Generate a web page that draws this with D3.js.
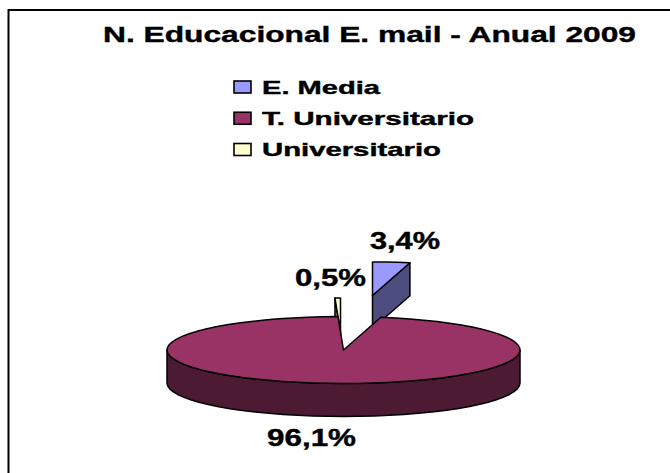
<!DOCTYPE html>
<html><head><meta charset="utf-8">
<script src="https://cdn.jsdelivr.net/npm/d3@7"></script>
<style>html,body{margin:0;padding:0;background:#fff}svg{display:block}text{font-family:"Liberation Sans",Arial,sans-serif;font-weight:700;fill:#000;stroke:#000;stroke-width:.4}</style>
</head><body><svg id="c" width="670" height="473"></svg>
<script>
const categories=["E. Media","T. Universitario","Universitario"];
const values=[3.4,96.1,0.5];
const labels=["3,4%","96,1%","0,5%"];
const colors=["#9999ff","#993366","#ffffcc"];
const sideColors=["#4d4d80","#4d1a33","#808066"];
const title="N. Educacional E. mail - Anual 2009";

const svg=d3.select("#c");
svg.append("path").attr("d","M670,10H8.5V473").attr("fill","none").attr("stroke","#000").attr("stroke-width",2);
svg.append("text").attr("x",103).attr("y",41.5).attr("font-size",22.5).attr("textLength",533).attr("lengthAdjust","spacingAndGlyphs").text(title);

const legendY=d3.scalePoint().domain(categories).range([87,149.5]);
const legendW=[118,212,179];
const lg=svg.append("g").selectAll("g").data(categories).join("g").attr("transform",d=>`translate(234,${legendY(d)})`);
lg.append("rect").attr("x",0).attr("y",-6).attr("width",17).attr("height",12).attr("fill",(d,i)=>colors[i]).attr("stroke","#000").attr("stroke-width",1.6);
lg.append("text").attr("x",28).attr("y",6.5).attr("font-size",18.5).attr("textLength",(d,i)=>legendW[i]).attr("lengthAdjust","spacingAndGlyphs").text(d=>d);

const arcs=d3.pie().sort(null).startAngle(0).endAngle(2*Math.PI)(values);
const rx=176.5,ry=33.5,depth=33,cx=343.5,cy=350;
const offset=[[29,-54.5],[0,0],[-3,-18.5]];
const px=d3.scaleLinear().domain([-1,1]).range([cx-rx,cx+rx]);
const py=d3.scaleLinear().domain([-1,1]).range([cy-ry,cy+ry]);
const pt=(a,o,dz=0)=>[px(Math.sin(a))+o[0],py(-Math.cos(a))+o[1]+dz];
const line=d3.line();
const angles=(a0,a1)=>{const n=Math.max(1,Math.ceil((a1-a0)/(Math.PI/36)));return d3.range(n+1).map(i=>a0+(a1-a0)*i/n);};
const apex=(o,dz=0)=>[px(0)+o[0],py(0)+o[1]+dz];

const g=svg.append("g").attr("stroke","#000").attr("stroke-width",1.5).attr("stroke-linejoin","round");
function sideCut(i,ang){const o=offset[i];
  g.append("path").attr("fill",sideColors[i]).attr("d",line([apex(o),pt(ang,o),pt(ang,o,depth),apex(o,depth)])+"Z");}
function topFace(i){const a=arcs[i],o=offset[i];
  g.append("path").attr("fill",colors[i]).attr("d",line([apex(o),...angles(a.startAngle,a.endAngle).map(t=>pt(t,o))])+"Z");}
// exploded slices, behind the large one
sideCut(0,arcs[0].endAngle);topFace(0);
sideCut(2,arcs[2].startAngle);topFace(2);
// large slice: rim wall then top
const o=offset[1];
const rim=angles(Math.PI/2,3*Math.PI/2);
g.append("path").attr("fill",sideColors[1]).attr("d",line([...rim.map(t=>pt(t,o)),...rim.slice().reverse().map(t=>pt(t,o,depth))])+"Z");
topFace(1);

const labelPos=[[370,249,70],[267,446,89],[295,286,71]];
svg.append("g").selectAll("text").data(labels).join("text").attr("x",(d,i)=>labelPos[i][0]).attr("y",(d,i)=>labelPos[i][1]).attr("font-size",23).attr("textLength",(d,i)=>labelPos[i][2]).attr("lengthAdjust","spacingAndGlyphs").text(d=>d);
</script></body></html>
